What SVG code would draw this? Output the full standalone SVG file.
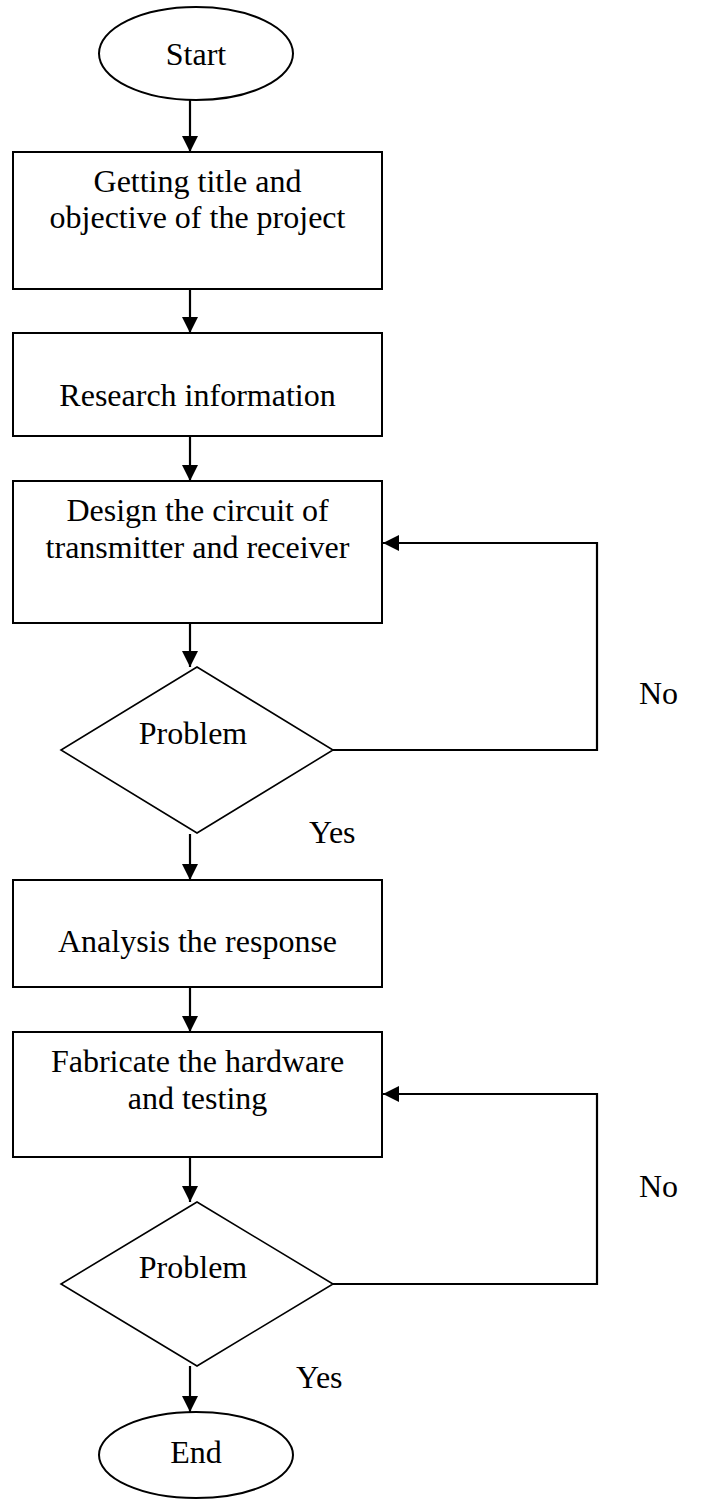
<svg xmlns="http://www.w3.org/2000/svg" width="710" height="1502" viewBox="0 0 710 1502">
<style>
.shape{fill:#fff;stroke:#000;stroke-width:2}
.dia{fill:#fff;stroke:#000;stroke-width:1.6}
.t{font-family:"Liberation Serif","Times New Roman",serif;font-size:32px;fill:#000;text-anchor:middle}
.lbl{font-family:"Liberation Serif","Times New Roman",serif;font-size:32px;fill:#000}
.c{fill:none;stroke:#000;stroke-width:2.2}
</style>
<defs>
<marker id="ah" viewBox="0 0 16 16" refX="16" refY="8" markerWidth="16" markerHeight="16" markerUnits="userSpaceOnUse" orient="auto">
<path d="M0,0 L16,8 L0,16 z" fill="#000"/>
</marker>
</defs>
<rect width="710" height="1502" fill="#fff"/>
<g id="connectors">
<line class="c" x1="190" y1="100" x2="190" y2="152" marker-end="url(#ah)"/>
<line class="c" x1="190" y1="289" x2="190" y2="333" marker-end="url(#ah)"/>
<line class="c" x1="190" y1="436" x2="190" y2="481" marker-end="url(#ah)"/>
<line class="c" x1="190" y1="623" x2="190" y2="667" marker-end="url(#ah)"/>
<line class="c" x1="190" y1="834" x2="190" y2="880" marker-end="url(#ah)"/>
<line class="c" x1="190" y1="987" x2="190" y2="1032" marker-end="url(#ah)"/>
<line class="c" x1="190" y1="1157" x2="190" y2="1202" marker-end="url(#ah)"/>
<line class="c" x1="190" y1="1366" x2="190" y2="1412" marker-end="url(#ah)"/>
<polyline class="c" points="333,750 597,750 597,543 383,543" marker-end="url(#ah)"/>
<polyline class="c" points="333,1284 597,1284 597,1094 383,1094" marker-end="url(#ah)"/>
</g>
<g id="start">
<ellipse class="shape" cx="196" cy="53.5" rx="97" ry="46.5"/>
<text class="t" x="196" y="65">Start</text>
</g>
<g id="box1">
<rect class="shape" x="13" y="152" width="369" height="137"/>
<text class="t" x="197.5" y="192">Getting title and</text>
<text class="t" x="197.5" y="228">objective of the project</text>
</g>
<g id="box2">
<rect class="shape" x="13" y="333" width="369" height="103"/>
<text class="t" x="197.5" y="406">Research information</text>
</g>
<g id="box3">
<rect class="shape" x="13" y="481" width="369" height="142"/>
<text class="t" x="197.5" y="521">Design the circuit of</text>
<text class="t" x="197.5" y="558">transmitter and receiver</text>
</g>
<g id="decision1">
<polygon class="dia" points="197,667 333,750 197,833 61,750"/>
<text class="t" x="193" y="744">Problem</text>
</g>
<g id="box4">
<rect class="shape" x="13" y="880" width="369" height="107"/>
<text class="t" x="197.5" y="952">Analysis the response</text>
</g>
<g id="box5">
<rect class="shape" x="13" y="1032" width="369" height="125"/>
<text class="t" x="197.5" y="1072">Fabricate the hardware</text>
<text class="t" x="197.5" y="1109">and testing</text>
</g>
<g id="decision2">
<polygon class="dia" points="197,1202 333,1284 197,1366 61,1284"/>
<text class="t" x="193" y="1278">Problem</text>
</g>
<g id="end">
<ellipse class="shape" cx="196" cy="1455" rx="97" ry="43"/>
<text class="t" x="196" y="1463">End</text>
</g>
<g id="labels">
<text class="lbl" x="639" y="704">No</text>
<text class="lbl" x="309" y="843">Yes</text>
<text class="lbl" x="639" y="1197">No</text>
<text class="lbl" x="296" y="1388">Yes</text>
</g>
</svg>
